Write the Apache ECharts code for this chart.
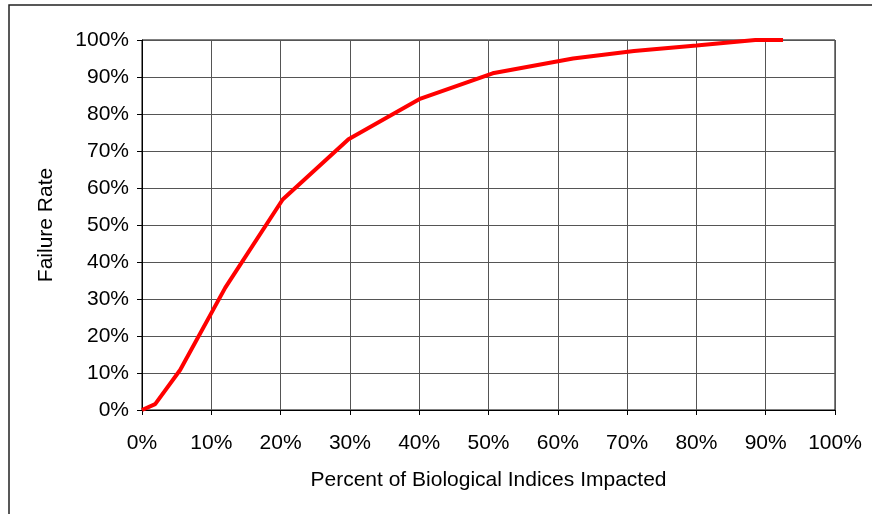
<!DOCTYPE html>
<html>
<head>
<meta charset="utf-8">
<script src="https://cdn.jsdelivr.net/npm/echarts@6/dist/echarts.min.js"></script>
<style>
  html, body { margin: 0; padding: 0; background: #fff; }
  #chart { width: 872px; height: 514px; }
</style>
</head>
<body>
<div id="chart"></div>
<script>
// percent of biological indices impacted (x) vs failure rate (y)
const impacted = [0, 1.9, 5.5, 12, 20.3, 29.8, 40, 50.6, 62.2, 71, 80, 88.5, 92.5]
const failureRate = [0, 1.6, 10.8, 33, 56.9, 73.2, 84, 91, 95, 97, 98.5, 100, 100]
const xTicks = [0, 10, 20, 30, 40, 50, 60, 70, 80, 90, 100]
const yTicks = [0, 10, 20, 30, 40, 50, 60, 70, 80, 90, 100]

const font = 'Liberation Sans, Arial, sans-serif'
const chart = echarts.init(document.getElementById('chart'))

const axisCommon = {
  type: 'value',
  min: xTicks[0],
  max: xTicks[xTicks.length - 1],
  interval: 10,
  axisLine: { show: true, onZero: false, lineStyle: { color: '#000', width: 1 } },
  axisTick: { show: true, length: 5, lineStyle: { color: '#000' } },
  splitLine: { show: true, lineStyle: { color: '#555', width: 1 } },
  axisLabel: { color: '#000', fontFamily: font, fontSize: 21, formatter: v => v + '%' },
  nameLocation: 'middle',
  nameTextStyle: { color: '#000', fontFamily: font, fontSize: 21 }
}

chart.setOption({
  backgroundColor: '#fff',
  animation: false,
  graphic: [{
    type: 'rect',
    shape: { x: 9, y: 5, width: 900, height: 600 },
    style: { fill: 'none', stroke: '#222', lineWidth: 1.5 },
    silent: true
  }],
  grid: { left: 142, right: 37, top: 40, bottom: 104, show: true, borderColor: '#000', borderWidth: 1 },
  xAxis: {
    ...axisCommon,
    name: 'Percent of Biological Indices Impacted',
    nameGap: 60,
    axisLabel: { ...axisCommon.axisLabel, margin: 23 }
  },
  yAxis: {
    ...axisCommon,
    min: yTicks[0],
    max: yTicks[yTicks.length - 1],
    name: 'Failure Rate',
    nameGap: 85,
    axisLabel: { ...axisCommon.axisLabel, margin: 13 }
  },
  series: [{
    type: 'line',
    data: impacted.map((x, i) => [x, failureRate[i]]),
    showSymbol: false,
    lineStyle: { color: '#ff0000', width: 4 },
    clip: false
  }]
})
</script>
</body>
</html>
